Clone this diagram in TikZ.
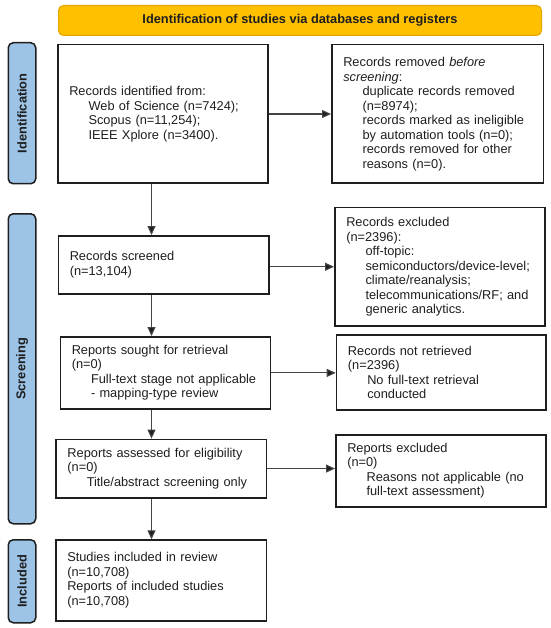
\documentclass[tikz,border=0pt]{standalone}
\usepackage{fontspec}
\setmainfont{Liberation Sans}
\usetikzlibrary{arrows.meta}
\definecolor{gold}{HTML}{FFC000}
\definecolor{golddark}{HTML}{E3A600}
\definecolor{barblue}{HTML}{9DC3E6}
\definecolor{ink}{HTML}{1E1E1E}
\definecolor{arrowgray}{HTML}{444444}
\newcommand{\ind}{\hspace*{19.3pt}}
\begin{document}
\begin{tikzpicture}[x=1pt,y=-1pt,
  box/.style={draw=ink, line width=1.5pt, anchor=north west, inner xsep=11.5pt, inner ysep=2pt, align=left, font=\fontsize{12.8}{14.5}\selectfont, text=ink},
  bar/.style={draw=ink, line width=1.5pt, fill=barblue, rounded corners=5pt, anchor=north west, minimum width=27.5pt},
  barlabel/.style={rotate=90, font=\fontsize{12.8}{15}\selectfont\bfseries, text=ink},
  arr/.style={draw=arrowgray, line width=1.1pt, -{Triangle[length=9pt,width=8pt,fill=ink]}}]
\useasboundingbox (0,0) rectangle (550,628);

% banner
\node[draw=golddark, fill=gold, rounded corners=5pt, line width=1pt, minimum width=483pt, minimum height=30pt, anchor=north west, font=\fontsize{12.8}{15}\selectfont\bfseries, text=ink] (banner) at (58,5) {Identification of studies via databases and registers};

% side bars
\node[bar, minimum height=141pt] (barI) at (7.5,42) {};
\node[barlabel] (labI) at (barI.center) {Identification};
\node[bar, minimum height=310pt] (barS) at (7.5,213) {};
\node[barlabel] (labS) at (barS.center) {Screening};
\node[bar, minimum height=83pt] (barC) at (7.5,539) {};
\node[barlabel] (labC) at (barC.center) {Included};

% left column
\node[box, minimum width=210pt, minimum height=138.5pt, text width=187pt] (b1) at (57,44)
 {Records identified from:\\ \ind Web of Science (n=7424);\\ \ind Scopus (n=11,254);\\ \ind IEEE Xplore (n=3400).};
\node[box, minimum width=210.5pt, minimum height=58.3pt, text width=187.5pt] (b2) at (57.5,235)
 {Records screened\\ (n=13,104)};
\node[box, minimum width=210pt, minimum height=72.3pt, text width=187pt] (b3) at (59.5,336)
 {Reports sought for retrieval\\ (n=0)\\ \ind Full-text stage not applicable\\ \ind - mapping-type review};
\node[box, minimum width=210.3pt, minimum height=58.4pt, text width=187.3pt] (b4) at (55.2,438.6)
 {Reports assessed for eligibility\\ (n=0)\\ \ind Title/abstract screening only};
\node[box, minimum width=210.5pt, minimum height=80.7pt, text width=187.5pt] (b5) at (55,539.3)
 {Studies included in review\\ (n=10,708)\\ Reports of included studies\\ (n=10,708)};

% right column
\node[box, minimum width=211.5pt, minimum height=138.5pt, text width=188.5pt] (r1) at (331,44)
 {Records removed \textit{before}\\ \textit{screening}:\\ \ind duplicate records removed\\ \ind (n=8974);\\ \ind records marked as ineligible\\ \ind by automation tools (n=0);\\ \ind records removed for other\\ \ind reasons (n=0).};
\node[box, minimum width=210pt, minimum height=118pt, text width=187pt] (r2) at (334,207)
 {Records excluded\\ (n=2396):\\ \ind off-topic:\\ \ind semiconductors/device-level;\\ \ind climate/reanalysis;\\ \ind telecommunications/RF; and\\ \ind generic analytics.};
\node[box, minimum width=209.3pt, minimum height=75pt, text width=186.3pt] (r3) at (335.7,334)
 {Records not retrieved\\ (n=2396)\\ \ind No full-text retrieval\\ \ind conducted};
\node[box, minimum width=210pt, minimum height=72pt, text width=187pt] (r4) at (335,434)
 {Reports excluded\\ (n=0)\\ \ind Reasons not applicable (no\\ \ind full-text assessment)};

% connectors
\coordinate (ax) at (151.5,0);
\draw[arr] (b1.south -| ax) -- (b2.north -| ax);
\draw[arr] (b2.south -| ax) -- (b3.north -| ax);
\draw[arr] (b3.south -| ax) -- (b4.north -| ax);
\draw[arr] (b4.south -| ax) -- (b5.north -| ax);
\draw[arr] (b1.east) -- (r1.west);
\draw[arr] (b2.east |- r2.west) -- (r2.west);
\draw[arr] (b3.east) -- (b3.east -| r3.west);
\draw[arr] (b4.east) -- (b4.east -| r4.west);
\end{tikzpicture}
\end{document}
